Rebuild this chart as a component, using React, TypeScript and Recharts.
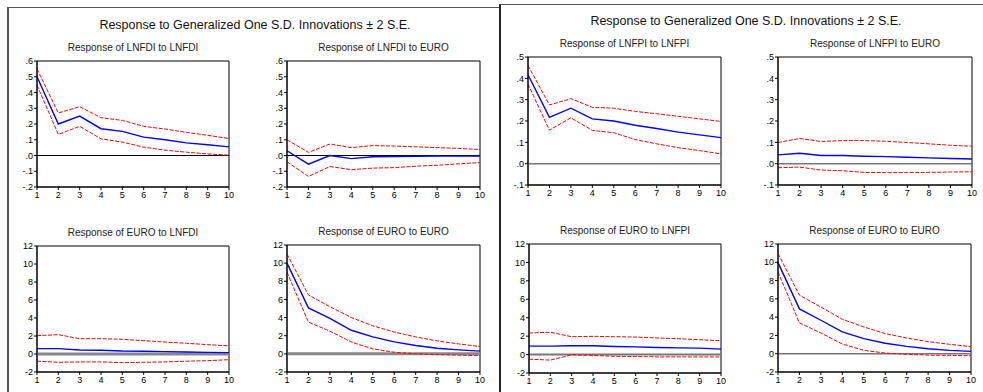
import React from "react";
import { LineChart, Line, XAxis, YAxis, ReferenceLine, ReferenceArea } from "recharts";

const steps = [1, 2, 3, 4, 5, 6, 7, 8, 9, 10];

// Response of LNFDI to LNFDI
const fdiFdiResp = [0.5, 0.2, 0.25, 0.17, 0.153, 0.117, 0.1, 0.08, 0.068, 0.055];
const fdiFdiUpper = [0.55, 0.27, 0.31, 0.24, 0.223, 0.185, 0.168, 0.147, 0.128, 0.108];
const fdiFdiLower = [0.447, 0.134, 0.185, 0.106, 0.085, 0.053, 0.034, 0.021, 0.01, 0.002];

// Response of LNFDI to EURO
const fdiEuroResp = [0.03, -0.055, 0.0, -0.02, -0.008, -0.006, -0.005, -0.004, -0.004, -0.004];
const fdiEuroUpper = [0.1, 0.02, 0.073, 0.05, 0.063, 0.06, 0.055, 0.05, 0.045, 0.038];
const fdiEuroLower = [-0.04, -0.133, -0.07, -0.09, -0.08, -0.077, -0.068, -0.062, -0.053, -0.045];

// Response of EURO to LNFDI
const euroFdiResp = [0.6, 0.6, 0.45, 0.42, 0.33, 0.3, 0.26, 0.22, 0.18, 0.15];
const euroFdiUpper = [2.04, 2.15, 1.7, 1.7, 1.63, 1.48, 1.33, 1.19, 1.04, 0.9];
const euroFdiLower = [-0.8, -0.92, -0.88, -0.88, -0.96, -0.92, -0.88, -0.8, -0.74, -0.63];

// Response of EURO to EURO (FDI model)
const euroEuroAResp = [10.0, 5.07, 3.9, 2.6, 1.87, 1.32, 0.92, 0.62, 0.44, 0.3];
const euroEuroAUpper = [11.0, 6.5, 5.2, 4.0, 3.1, 2.4, 1.87, 1.43, 1.1, 0.8];
const euroEuroALower = [9.0, 3.5, 2.5, 1.3, 0.55, 0.18, 0.0, -0.07, -0.15, -0.2];

// Response of LNFPI to LNFPI
const fpiFpiResp = [0.417, 0.217, 0.26, 0.21, 0.2, 0.18, 0.165, 0.148, 0.135, 0.122];
const fpiFpiUpper = [0.46, 0.275, 0.305, 0.264, 0.26, 0.245, 0.234, 0.222, 0.21, 0.198];
const fpiFpiLower = [0.373, 0.157, 0.215, 0.156, 0.145, 0.113, 0.093, 0.075, 0.061, 0.046];

// Response of LNFPI to EURO
const fpiEuroResp = [0.041, 0.049, 0.038, 0.038, 0.035, 0.033, 0.03, 0.027, 0.024, 0.022];
const fpiEuroUpper = [0.099, 0.118, 0.104, 0.108, 0.108, 0.105, 0.099, 0.093, 0.086, 0.082];
const fpiEuroLower = [-0.019, -0.016, -0.03, -0.033, -0.041, -0.042, -0.042, -0.041, -0.039, -0.038];

// Response of EURO to LNFPI
const euroFpiResp = [0.92, 0.92, 0.95, 0.95, 0.88, 0.84, 0.77, 0.73, 0.7, 0.59];
const euroFpiUpper = [2.34, 2.42, 1.94, 1.98, 1.94, 1.9, 1.8, 1.72, 1.61, 1.5];
const euroFpiLower = [-0.5, -0.6, -0.03, -0.1, -0.18, -0.22, -0.25, -0.25, -0.25, -0.25];

// Response of EURO to EURO (FPI model)
const euroEuroBResp = [9.96, 4.9, 3.66, 2.38, 1.65, 1.14, 0.8, 0.55, 0.37, 0.26];
const euroEuroBUpper = [10.95, 6.4, 5.1, 3.77, 2.93, 2.2, 1.72, 1.32, 1.03, 0.77];
const euroEuroBLower = [8.94, 3.37, 2.27, 1.06, 0.37, 0.07, -0.07, -0.15, -0.18, -0.22];

const fdiTicks = [-0.2, -0.1, 0, 0.1, 0.2, 0.3, 0.4, 0.5, 0.6];
const fpiTicks = [-0.1, 0, 0.1, 0.2, 0.3, 0.4, 0.5];
const euroTicks = [-2, 0, 2, 4, 6, 8, 10, 12];

const mainTitle = "Response to Generalized One S.D. Innovations \u00b1 2 S.E.";
const FONT = "'Liberation Sans', Arial, sans-serif";

// EViews style: drop the leading zero (.5, -.1)
const fmtDecimal = (v: number) => {
  const s = v.toFixed(1);
  return s.replace(/^(-?)0\./, "$1.");
};
const fmtInt = (v: number) => String(Math.round(v));

type PlotProps = {
  title: string;
  left: number;
  top: number;
  w: number;
  h: number;
  resp: number[];
  upper: number[];
  lower: number[];
  ticks: number[];
  fmt: (v: number) => string;
  zeroColor: string;
  zeroWidth: number;
};

function IrfPlot(p: PlotProps) {
  const data = steps.map((s, i) => ({ step: s, resp: p.resp[i], upper: p.upper[i], lower: p.lower[i] }));
  const yMin = p.ticks[0];
  const yMax = p.ticks[p.ticks.length - 1];
  const padL = 30;
  const padT = 6;
  return (
    <>
      <div
        style={{
          position: "absolute",
          left: p.left - 40,
          width: p.w + 80,
          top: p.top - 19,
          textAlign: "center",
          fontSize: 10,
          fontFamily: FONT,
          color: "#222",
          lineHeight: "12px",
        }}
      >
        {p.title}
      </div>
      <div style={{ position: "absolute", left: p.left - padL, top: p.top - padT }}>
        <LineChart
          width={p.w + padL + 6}
          height={p.h + padT + 18}
          data={data}
          margin={{ top: padT, right: 6, left: 0, bottom: 0 }}
        >
          <XAxis
            dataKey="step"
            type="number"
            domain={[1, 10]}
            ticks={steps}
            height={18}
            tickSize={3}
            tick={{ fontSize: 9, fill: "#000", fontFamily: FONT }}
            stroke="#000"
            interval={0}
          />
          <YAxis
            type="number"
            domain={[yMin, yMax]}
            ticks={p.ticks}
            width={padL}
            tickSize={3}
            tickMargin={1}
            tickFormatter={p.fmt}
            tick={{ fontSize: 9, fill: "#000", fontFamily: FONT }}
            stroke="#000"
            interval={0}
            allowDataOverflow
          />
          <ReferenceLine y={0} stroke={p.zeroColor} strokeWidth={p.zeroWidth} />
          <Line dataKey="upper" stroke="#ff0000" strokeWidth={1} strokeDasharray="4 1.5" dot={false} isAnimationActive={false} />
          <Line dataKey="lower" stroke="#ff0000" strokeWidth={1} strokeDasharray="4 1.5" dot={false} isAnimationActive={false} />
          <Line dataKey="resp" stroke="#0000ff" strokeWidth={1.4} dot={false} isAnimationActive={false} />
          <ReferenceArea x1={1} x2={10} y1={yMin} y2={yMax} fill="none" stroke="#000" strokeWidth={1} />
        </LineChart>
      </div>
    </>
  );
}

export default function App() {
  return (
    <div
      style={{
        position: "absolute",
        left: 0,
        top: 0,
        width: 983,
        height: 392,
        background: "#fff",
        overflow: "hidden",
        fontFamily: FONT,
      }}
    >
      {/* left panel frame */}
      <div
        style={{
          position: "absolute",
          left: 7,
          top: 7,
          width: 500,
          height: 400,
          borderLeft: "2px solid #555",
          borderTop: "1.5px solid #555",
        }}
      />
      <div style={{ position: "absolute", left: 10, width: 490, top: 18, textAlign: "center", fontSize: 12.5, color: "#111" }}>
        {mainTitle}
      </div>
      <IrfPlot title="Response of LNFDI to LNFDI" left={37} top={61} w={192} h={126}
        resp={fdiFdiResp} upper={fdiFdiUpper} lower={fdiFdiLower} ticks={fdiTicks} fmt={fmtDecimal} zeroColor="#000" zeroWidth={1} />
      <IrfPlot title="Response of LNFDI to EURO" left={287} top={61} w={193} h={126}
        resp={fdiEuroResp} upper={fdiEuroUpper} lower={fdiEuroLower} ticks={fdiTicks} fmt={fmtDecimal} zeroColor="#000" zeroWidth={1} />
      <IrfPlot title="Response of EURO to LNFDI" left={37} top={246} w={192} h={126}
        resp={euroFdiResp} upper={euroFdiUpper} lower={euroFdiLower} ticks={euroTicks} fmt={fmtInt} zeroColor="#888" zeroWidth={3} />
      <IrfPlot title="Response of EURO to EURO" left={287} top={245} w={193} h={127}
        resp={euroEuroAResp} upper={euroEuroAUpper} lower={euroEuroALower} ticks={euroTicks} fmt={fmtInt} zeroColor="#888" zeroWidth={3} />

      {/* right panel frame */}
      <div
        style={{
          position: "absolute",
          left: 499,
          top: 4,
          width: 490,
          height: 400,
          background: "#fff",
          borderLeft: "2px solid #222",
          borderTop: "1.5px solid #555",
        }}
      />
      <div style={{ position: "absolute", left: 501, width: 490, top: 14, textAlign: "center", fontSize: 12.5, color: "#111" }}>
        {mainTitle}
      </div>
      <IrfPlot title="Response of LNFPI to LNFPI" left={528} top={57} w={193} h={128}
        resp={fpiFpiResp} upper={fpiFpiUpper} lower={fpiFpiLower} ticks={fpiTicks} fmt={fmtDecimal} zeroColor="#777" zeroWidth={1.5} />
      <IrfPlot title="Response of LNFPI to EURO" left={778} top={57} w={194} h={128}
        resp={fpiEuroResp} upper={fpiEuroUpper} lower={fpiEuroLower} ticks={fpiTicks} fmt={fmtDecimal} zeroColor="#777" zeroWidth={1.5} />
      <IrfPlot title="Response of EURO to LNFPI" left={529} top={244} w={192} h={129}
        resp={euroFpiResp} upper={euroFpiUpper} lower={euroFpiLower} ticks={euroTicks} fmt={fmtInt} zeroColor="#777" zeroWidth={2} />
      <IrfPlot title="Response of EURO to EURO" left={778} top={244} w={193} h={128}
        resp={euroEuroBResp} upper={euroEuroBUpper} lower={euroEuroBLower} ticks={euroTicks} fmt={fmtInt} zeroColor="#777" zeroWidth={1.5} />
    </div>
  );
}
